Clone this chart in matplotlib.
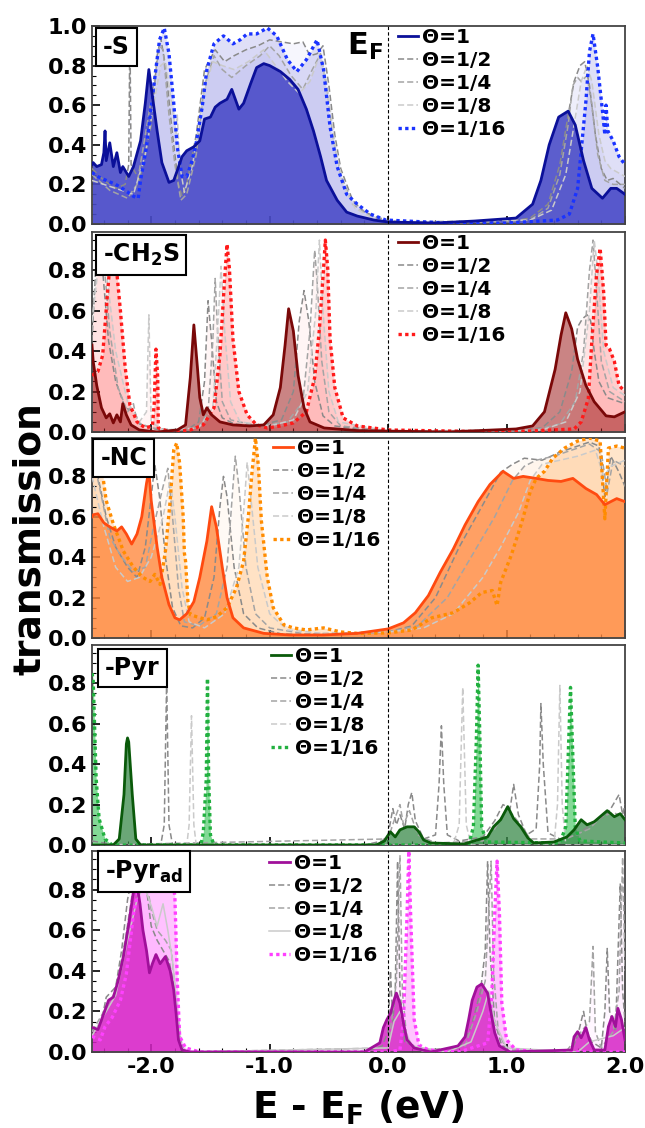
import numpy as np
import matplotlib.pyplot as plt
from matplotlib.ticker import MultipleLocator, FormatStrFormatter

# transmission curves, (E - E_F [eV], T)
# ---- -S ----
S_1 = [(-2.5, 0.30), (-2.49, 0.31), (-2.46, 0.29), (-2.42, 0.30), (-2.40, 0.36), (-2.39, 0.47), (-2.38, 0.32),
       (-2.35, 0.41), (-2.32, 0.29), (-2.29, 0.36), (-2.26, 0.26), (-2.24, 0.29), (-2.19, 0.24), (-2.15, 0.29),
       (-2.09, 0.42), (-2.05, 0.61), (-2.02, 0.78), (-2.00, 0.69), (-1.95, 0.47), (-1.91, 0.31), (-1.85, 0.21),
       (-1.81, 0.22), (-1.78, 0.27), (-1.74, 0.34), (-1.70, 0.37), (-1.64, 0.39), (-1.59, 0.42), (-1.55, 0.53),
       (-1.50, 0.54), (-1.46, 0.59), (-1.42, 0.61), (-1.36, 0.63), (-1.32, 0.68), (-1.26, 0.58), (-1.22, 0.61),
       (-1.16, 0.71), (-1.11, 0.79), (-1.05, 0.81), (-1.00, 0.80), (-0.91, 0.77), (-0.83, 0.73), (-0.76, 0.68),
       (-0.69, 0.58), (-0.63, 0.47), (-0.57, 0.34), (-0.52, 0.22), (-0.43, 0.12), (-0.35, 0.06), (-0.26, 0.04),
       (-0.12, 0.02), (0.0, 0.01), (0.4, 0.005), (0.73, 0.015), (1.08, 0.03), (1.22, 0.10), (1.29, 0.22),
       (1.36, 0.40), (1.44, 0.54), (1.52, 0.57), (1.58, 0.50), (1.65, 0.32), (1.72, 0.18), (1.81, 0.13),
       (1.88, 0.18), (1.93, 0.18), (2.0, 0.15)]
S_2 = [(-2.5, 0.28), (-2.4, 0.22), (-2.3, 0.18), (-2.22, 0.2), (-2.19, 0.3), (-2.18, 0.99), (-2.17, 0.3),
       (-2.1, 0.22), (-2.0, 0.5), (-1.95, 0.85), (-1.92, 0.94), (-1.88, 0.8), (-1.82, 0.45), (-1.77, 0.2),
       (-1.74, 0.14), (-1.70, 0.2), (-1.62, 0.45), (-1.55, 0.78), (-1.46, 0.88), (-1.38, 0.82), (-1.3, 0.85),
       (-1.2, 0.88), (-1.1, 0.9), (-1.0, 0.93), (-0.9, 0.92), (-0.8, 0.91), (-0.72, 0.92), (-0.66, 0.85),
       (-0.6, 0.86), (-0.55, 0.9), (-0.5, 0.7), (-0.45, 0.45), (-0.4, 0.28), (-0.3, 0.12), (-0.2, 0.06),
       (0.0, 0.015), (0.5, 0.005), (1.0, 0.01), (1.2, 0.03), (1.35, 0.1), (1.45, 0.3), (1.52, 0.55),
       (1.57, 0.72), (1.62, 0.8), (1.66, 0.82), (1.7, 0.7), (1.75, 0.45), (1.8, 0.28), (1.85, 0.22),
       (1.9, 0.23), (2.0, 0.18)]
S_4 = [(-2.5, 0.25), (-2.35, 0.17), (-2.2, 0.13), (-2.12, 0.2), (-2.05, 0.45), (-1.98, 0.7), (-1.93, 0.9),
       (-1.9, 0.88), (-1.85, 0.55), (-1.8, 0.3), (-1.75, 0.12), (-1.7, 0.15), (-1.62, 0.35), (-1.55, 0.7),
       (-1.47, 0.85), (-1.4, 0.78), (-1.32, 0.74), (-1.2, 0.8), (-1.08, 0.85), (-1.0, 0.9), (-0.92, 0.85),
       (-0.82, 0.75), (-0.72, 0.68), (-0.64, 0.78), (-0.57, 0.86), (-0.52, 0.7), (-0.46, 0.42), (-0.4, 0.25),
       (-0.3, 0.1), (-0.15, 0.04), (0.0, 0.01), (0.8, 0.01), (1.2, 0.02), (1.35, 0.08), (1.45, 0.25),
       (1.52, 0.5), (1.56, 0.7), (1.6, 0.74), (1.63, 0.72), (1.68, 0.75), (1.72, 0.6), (1.77, 0.35),
       (1.83, 0.22), (1.9, 0.2), (2.0, 0.2)]
S_8 = [(-2.5, 0.22), (-2.3, 0.18), (-2.15, 0.15), (-2.05, 0.35), (-1.98, 0.6), (-1.92, 0.8), (-1.88, 0.82),
       (-1.83, 0.62), (-1.79, 0.45), (-1.78, 0.55), (-1.76, 0.3), (-1.72, 0.16), (-1.65, 0.3), (-1.56, 0.65),
       (-1.48, 0.82), (-1.4, 0.8), (-1.3, 0.78), (-1.18, 0.82), (-1.05, 0.88), (-0.95, 0.8), (-0.85, 0.72),
       (-0.75, 0.66), (-0.66, 0.72), (-0.58, 0.85), (-0.52, 0.72), (-0.45, 0.4), (-0.38, 0.2), (-0.28, 0.08),
       (-0.1, 0.02), (0.0, 0.01), (1.2, 0.02), (1.38, 0.07), (1.5, 0.25), (1.57, 0.5), (1.63, 0.72),
       (1.68, 0.8), (1.72, 0.72), (1.78, 0.45), (1.83, 0.32), (1.88, 0.28), (2.0, 0.24)]
S_16 = [(-2.5, 0.26), (-2.45, 0.24), (-2.38, 0.22), (-2.3, 0.20), (-2.22, 0.17), (-2.15, 0.14), (-2.11, 0.13),
        (-2.09, 0.22), (-2.04, 0.39), (-1.98, 0.69), (-1.93, 0.93), (-1.89, 0.99), (-1.85, 0.86), (-1.81, 0.61),
        (-1.78, 0.39), (-1.74, 0.24), (-1.70, 0.24), (-1.66, 0.31), (-1.62, 0.41), (-1.57, 0.59), (-1.53, 0.78),
        (-1.47, 0.91), (-1.39, 0.95), (-1.31, 0.91), (-1.25, 0.93), (-1.19, 0.96), (-1.11, 0.96), (-1.02, 0.99),
        (-0.94, 0.95), (-0.85, 0.83), (-0.77, 0.77), (-0.69, 0.83), (-0.60, 0.93), (-0.545, 0.78), (-0.49, 0.49),
        (-0.43, 0.29), (-0.35, 0.15), (-0.26, 0.10), (-0.15, 0.05), (-0.02, 0.02), (0.5, 0.005), (1.0, 0.005),
        (1.43, 0.02), (1.53, 0.05), (1.60, 0.18), (1.63, 0.37), (1.67, 0.62), (1.70, 0.87), (1.73, 0.96),
        (1.77, 0.79), (1.81, 0.57), (1.83, 0.45), (1.84, 0.60), (1.855, 0.47), (1.90, 0.42), (1.95, 0.34),
        (2.0, 0.30)]

# ---- -CH2S ----
C_1 = [(-2.5, 0.43), (-2.49, 0.35), (-2.46, 0.23), (-2.42, 0.12), (-2.38, 0.07), (-2.35, 0.09), (-2.32, 0.045),
       (-2.29, 0.085), (-2.26, 0.05), (-2.24, 0.14), (-2.21, 0.085), (-2.17, 0.035), (-2.1, 0.01), (-1.95, 0.0),
       (-1.78, 0.01), (-1.71, 0.035), (-1.67, 0.27), (-1.64, 0.53), (-1.61, 0.32), (-1.59, 0.17), (-1.56, 0.085),
       (-1.53, 0.12), (-1.49, 0.085), (-1.42, 0.05), (-1.31, 0.035), (-1.17, 0.03), (-1.05, 0.035), (-0.97, 0.085),
       (-0.91, 0.22), (-0.87, 0.43), (-0.84, 0.61), (-0.80, 0.50), (-0.76, 0.28), (-0.71, 0.12), (-0.66, 0.05),
       (-0.54, 0.02), (-0.26, 0.007), (0.5, 0.0), (1.08, 0.015), (1.22, 0.03), (1.32, 0.10), (1.41, 0.31),
       (1.46, 0.48), (1.50, 0.59), (1.55, 0.51), (1.60, 0.36), (1.67, 0.23), (1.74, 0.15), (1.84, 0.08),
       (1.91, 0.075), (2.0, 0.10)]
C_2 = [(-2.5, 0.45), (-2.47, 0.8), (-2.44, 0.93), (-2.41, 0.8), (-2.36, 0.45), (-2.3, 0.25), (-2.22, 0.12),
       (-2.14, 0.1), (-2.1, 0.04), (-2.0, 0.02), (-1.9, 0.005), (-1.7, 0.01), (-1.6, 0.05), (-1.55, 0.25),
       (-1.52, 0.65), (-1.49, 0.45), (-1.45, 0.15), (-1.4, 0.07), (-1.3, 0.04), (-1.1, 0.03), (-0.9, 0.06),
       (-0.8, 0.2), (-0.75, 0.55), (-0.71, 0.7), (-0.67, 0.55), (-0.62, 0.25), (-0.55, 0.08), (-0.45, 0.03),
       (-0.2, 0.01), (0.0, 0.005), (1.0, 0.005), (1.3, 0.02), (1.45, 0.1), (1.55, 0.3), (1.6, 0.52),
       (1.64, 0.56), (1.68, 0.58), (1.71, 0.55), (1.74, 0.4), (1.78, 0.25), (1.85, 0.17), (2.0, 0.14)]
C_4 = [(-2.5, 0.5), (-2.46, 0.85), (-2.43, 0.95), (-2.4, 0.85), (-2.35, 0.5), (-2.28, 0.22), (-2.2, 0.1),
       (-2.15, 0.14), (-2.12, 0.05), (-2.0, 0.02), (-1.8, 0.01), (-1.6, 0.02), (-1.52, 0.1), (-1.48, 0.45),
       (-1.46, 0.76), (-1.44, 0.5), (-1.4, 0.15), (-1.33, 0.06), (-1.1, 0.03), (-0.85, 0.05), (-0.72, 0.15),
       (-0.66, 0.5), (-0.62, 0.9), (-0.6, 0.75), (-0.56, 0.35), (-0.5, 0.1), (-0.4, 0.03), (0.0, 0.005),
       (1.2, 0.005), (1.45, 0.04), (1.58, 0.15), (1.65, 0.4), (1.7, 0.8), (1.73, 0.95), (1.76, 0.7),
       (1.8, 0.35), (1.87, 0.2), (2.0, 0.15)]
C_8 = [(-2.5, 0.55), (-2.45, 0.8), (-2.41, 0.9), (-2.37, 0.75), (-2.3, 0.4), (-2.2, 0.15), (-2.1, 0.05),
       (-2.04, 0.1), (-2.02, 0.58), (-2.0, 0.05), (-1.9, 0.01), (-1.6, 0.02), (-1.48, 0.12), (-1.44, 0.5),
       (-1.41, 0.82), (-1.38, 0.5), (-1.33, 0.15), (-1.25, 0.05), (-1.0, 0.03), (-0.8, 0.06), (-0.68, 0.2),
       (-0.61, 0.6), (-0.58, 0.95), (-0.55, 0.6), (-0.5, 0.2), (-0.42, 0.05), (0.0, 0.005), (1.3, 0.01),
       (1.5, 0.05), (1.62, 0.2), (1.7, 0.6), (1.74, 0.95), (1.77, 0.8), (1.82, 0.4), (1.9, 0.22), (2.0, 0.18)]
C_16 = [(-2.5, 0.28), (-2.45, 0.30), (-2.41, 0.38), (-2.37, 0.68), (-2.33, 0.96), (-2.31, 0.91), (-2.26, 0.60),
        (-2.22, 0.32), (-2.18, 0.135), (-2.12, 0.05), (-2.05, 0.02), (-1.99, 0.03), (-1.975, 0.135), (-1.96, 0.41),
        (-1.945, 0.27), (-1.94, 0.02), (-1.84, 0.0), (-1.67, 0.01), (-1.56, 0.035), (-1.47, 0.12), (-1.42, 0.38),
        (-1.38, 0.76), (-1.36, 0.93), (-1.34, 0.81), (-1.31, 0.46), (-1.26, 0.20), (-1.19, 0.085), (-1.11, 0.035),
        (-1.02, 0.02), (-0.91, 0.03), (-0.80, 0.045), (-0.69, 0.10), (-0.62, 0.27), (-0.58, 0.51), (-0.545, 0.81),
        (-0.53, 0.95), (-0.51, 0.81), (-0.49, 0.46), (-0.45, 0.22), (-0.38, 0.07), (-0.26, 0.03), (0.0, 0.01),
        (1.0, 0.0), (1.57, 0.015), (1.63, 0.05), (1.69, 0.165), (1.72, 0.45), (1.76, 0.78), (1.79, 0.91),
        (1.82, 0.69), (1.84, 0.43), (1.87, 0.41), (1.91, 0.35), (1.95, 0.23), (2.0, 0.20)]

# ---- -NC ----
N_1 = [(-2.5, 0.60), (-2.49, 0.61), (-2.45, 0.615), (-2.40, 0.57), (-2.35, 0.55), (-2.29, 0.53), (-2.25, 0.55),
       (-2.21, 0.515), (-2.165, 0.465), (-2.12, 0.515), (-2.08, 0.60), (-2.04, 0.765), (-2.02, 0.83), (-2.0, 0.68),
       (-1.95, 0.45), (-1.91, 0.30), (-1.85, 0.165), (-1.80, 0.10), (-1.76, 0.09), (-1.70, 0.12), (-1.64, 0.18),
       (-1.59, 0.30), (-1.53, 0.48), (-1.49, 0.65), (-1.45, 0.55), (-1.40, 0.35), (-1.36, 0.20), (-1.31, 0.10),
       (-1.22, 0.05), (-1.05, 0.023), (-0.83, 0.015), (-0.545, 0.015), (-0.26, 0.023), (0.0, 0.045), (0.13, 0.075),
       (0.23, 0.125), (0.34, 0.21), (0.44, 0.325), (0.55, 0.44), (0.65, 0.56), (0.76, 0.675), (0.86, 0.76),
       (0.97, 0.825), (1.06, 0.79), (1.14, 0.80), (1.25, 0.79), (1.35, 0.78), (1.46, 0.775), (1.56, 0.79),
       (1.67, 0.74), (1.76, 0.71), (1.83, 0.66), (1.88, 0.675), (1.93, 0.69), (2.0, 0.675)]
N_2 = [(-2.5, 0.95), (-2.45, 0.8), (-2.38, 0.6), (-2.3, 0.45), (-2.2, 0.35), (-2.12, 0.3), (-2.05, 0.45),
       (-2.0, 0.7), (-1.97, 0.86), (-1.93, 0.7), (-1.88, 0.4), (-1.82, 0.15), (-1.75, 0.06), (-1.65, 0.05),
       (-1.55, 0.1), (-1.47, 0.3), (-1.42, 0.65), (-1.39, 0.8), (-1.36, 0.7), (-1.3, 0.35), (-1.22, 0.12),
       (-1.1, 0.05), (-0.9, 0.02), (-0.5, 0.015), (0.0, 0.03), (0.2, 0.06), (0.4, 0.2), (0.6, 0.45),
       (0.8, 0.66), (0.95, 0.82), (1.05, 0.86), (1.15, 0.89), (1.3, 0.88), (1.45, 0.92), (1.6, 0.95),
       (1.7, 0.97), (1.78, 0.95), (1.83, 0.7), (1.88, 0.9), (1.95, 0.82), (2.0, 0.75)]
N_4 = [(-2.5, 0.92), (-2.42, 0.7), (-2.35, 0.5), (-2.25, 0.4), (-2.15, 0.33), (-2.05, 0.35), (-1.98, 0.55),
       (-1.9, 0.75), (-1.86, 0.84), (-1.82, 0.6), (-1.77, 0.25), (-1.72, 0.08), (-1.6, 0.06), (-1.45, 0.12),
       (-1.36, 0.35), (-1.31, 0.75), (-1.29, 0.9), (-1.26, 0.75), (-1.2, 0.35), (-1.12, 0.12), (-1.0, 0.05),
       (-0.7, 0.02), (0.0, 0.03), (0.25, 0.06), (0.5, 0.2), (0.7, 0.4), (0.9, 0.6), (1.05, 0.78), (1.15, 0.85),
       (1.25, 0.88), (1.4, 0.9), (1.55, 0.93), (1.7, 0.96), (1.8, 0.92), (1.85, 0.72), (1.9, 0.88), (2.0, 0.85)]
N_8 = [(-2.5, 0.8), (-2.4, 0.55), (-2.3, 0.35), (-2.2, 0.28), (-2.1, 0.3), (-2.0, 0.4), (-1.9, 0.6),
       (-1.84, 0.78), (-1.8, 0.6), (-1.74, 0.25), (-1.68, 0.08), (-1.55, 0.05), (-1.38, 0.12), (-1.26, 0.35),
       (-1.21, 0.7), (-1.19, 0.87), (-1.16, 0.7), (-1.1, 0.35), (-1.0, 0.12), (-0.85, 0.04), (-0.5, 0.02),
       (0.0, 0.03), (0.3, 0.05), (0.55, 0.12), (0.8, 0.3), (0.95, 0.45), (1.1, 0.62), (1.2, 0.78), (1.3, 0.86),
       (1.45, 0.88), (1.6, 0.9), (1.75, 0.93), (1.82, 0.8), (1.88, 0.85), (2.0, 0.88)]
N_16 = [(-2.5, 0.97), (-2.46, 0.98), (-2.42, 0.85), (-2.38, 0.68), (-2.32, 0.565), (-2.235, 0.43), (-2.15, 0.35),
        (-2.07, 0.30), (-2.01, 0.28), (-1.97, 0.315), (-1.925, 0.265), (-1.88, 0.43), (-1.84, 0.68), (-1.81, 0.93),
        (-1.785, 0.965), (-1.76, 0.865), (-1.73, 0.60), (-1.72, 0.42), (-1.71, 0.38), (-1.69, 0.18), (-1.67, 0.115),
        (-1.615, 0.105), (-1.53, 0.09), (-1.45, 0.105), (-1.36, 0.15), (-1.28, 0.25), (-1.22, 0.38), (-1.18, 0.60),
        (-1.15, 0.815), (-1.12, 0.99), (-1.095, 0.85), (-1.07, 0.58), (-1.02, 0.30), (-0.97, 0.15), (-0.88, 0.065),
        (-0.80, 0.05), (-0.69, 0.04), (-0.545, 0.05), (-0.40, 0.03), (-0.26, 0.023), (0.0, 0.025), (0.20, 0.04),
        (0.37, 0.10), (0.55, 0.125), (0.69, 0.175), (0.79, 0.225), (0.88, 0.235), (0.92, 0.16), (0.95, 0.275),
        (1.04, 0.41), (1.13, 0.575), (1.20, 0.725), (1.25, 0.79), (1.32, 0.825), (1.39, 0.89), (1.49, 0.94),
        (1.60, 0.975), (1.70, 0.99), (1.79, 0.975), (1.83, 0.59), (1.86, 0.94), (1.93, 0.95), (2.0, 0.94)]

# ---- -Pyr ----
P_1 = [(-2.5, 0.0), (-2.32, 0.0), (-2.27, 0.03), (-2.23, 0.25), (-2.21, 0.50), (-2.20, 0.53), (-2.19, 0.51),
       (-2.16, 0.25), (-2.13, 0.03), (-2.09, 0.0), (-0.1, 0.0), (-0.03, 0.02), (-0.01, 0.04), (0.02, 0.065),
       (0.06, 0.04), (0.10, 0.075), (0.16, 0.09), (0.22, 0.09), (0.26, 0.065), (0.30, 0.025), (0.36, 0.01),
       (0.64, 0.005), (0.84, 0.04), (0.89, 0.09), (0.95, 0.125), (1.01, 0.19), (1.06, 0.13), (1.12, 0.09),
       (1.18, 0.035), (1.23, 0.01), (1.40, 0.015), (1.51, 0.04), (1.57, 0.075), (1.63, 0.125), (1.68, 0.10),
       (1.74, 0.115), (1.79, 0.14), (1.85, 0.17), (1.91, 0.14), (1.96, 0.155), (2.0, 0.125)]
P_2 = [(-2.5, 0.02), (-2.3, 0.0), (-1.92, 0.0), (-1.89, 0.1), (-1.87, 0.81), (-1.85, 0.1), (-1.82, 0.0),
       (-0.2, 0.0), (-0.05, 0.02), (0.0, 0.05), (0.04, 0.18), (0.07, 0.1), (0.1, 0.15), (0.14, 0.08),
       (0.17, 0.2), (0.2, 0.26), (0.23, 0.12), (0.3, 0.03), (0.4, 0.05), (0.43, 0.3), (0.45, 0.59), (0.47, 0.3),
       (0.5, 0.05), (0.6, 0.02), (0.8, 0.04), (0.9, 0.12), (0.97, 0.2), (1.03, 0.18), (1.06, 0.3), (1.1, 0.15),
       (1.17, 0.05), (1.25, 0.08), (1.28, 0.4), (1.29, 0.7), (1.31, 0.4), (1.35, 0.06), (1.45, 0.03),
       (1.6, 0.05), (1.75, 0.12), (1.85, 0.15), (1.92, 0.22), (1.95, 0.25), (1.98, 0.15), (2.0, 0.2)]
P_4 = [(-2.5, 0.0), (0.0, 0.03), (0.05, 0.12), (0.1, 0.2), (0.13, 0.1), (0.18, 0.17), (0.25, 0.05), (0.4, 0.01),
       (0.8, 0.02), (0.9, 0.08), (1.0, 0.18), (1.05, 0.15), (1.12, 0.1), (1.2, 0.03), (1.5, 0.03), (1.7, 0.08),
       (1.8, 0.14), (1.9, 0.16), (2.0, 0.14)]
P_8 = [(-2.5, 0.0), (-1.7, 0.0), (-1.68, 0.1), (-1.66, 0.64), (-1.64, 0.1), (-1.62, 0.0), (0.55, 0.0),
       (0.6, 0.1), (0.63, 0.78), (0.66, 0.1), (0.7, 0.0), (1.4, 0.0), (1.43, 0.2), (1.45, 0.79), (1.47, 0.2),
       (1.5, 0.0), (2.0, 0.0)]
P_16 = [(-2.5, 0.85), (-2.49, 0.82), (-2.465, 0.33), (-2.44, 0.13), (-2.39, 0.03), (-2.33, 0.0), (-1.58, 0.0),
        (-1.56, 0.065), (-1.535, 0.33), (-1.525, 0.825), (-1.515, 0.33), (-1.50, 0.05), (-1.47, 0.0), (0.68, 0.0),
        (0.72, 0.09), (0.745, 0.52), (0.76, 0.89), (0.775, 0.52), (0.79, 0.09), (0.83, 0.015), (1.45, 0.01),
        (1.50, 0.09), (1.525, 0.52), (1.54, 0.78), (1.555, 0.52), (1.58, 0.09), (1.62, 0.02), (2.0, 0.01)]

# ---- -Pyr_ad ----
A_1 = [(-2.5, 0.12), (-2.49, 0.12), (-2.45, 0.11), (-2.40, 0.19), (-2.36, 0.255), (-2.32, 0.27), (-2.28, 0.35),
       (-2.235, 0.47), (-2.19, 0.63), (-2.15, 0.79), (-2.12, 0.825), (-2.095, 0.73), (-2.07, 0.60), (-2.04, 0.50),
       (-2.015, 0.39), (-1.99, 0.435), (-1.96, 0.48), (-1.925, 0.435), (-1.88, 0.47), (-1.84, 0.40), (-1.81, 0.305),
       (-1.79, 0.19), (-1.77, 0.06), (-1.74, 0.01), (-1.67, 0.0), (-0.2, 0.0), (-0.07, 0.045), (-0.04, 0.12),
       (-0.01, 0.16), (0.02, 0.19), (0.05, 0.255), (0.07, 0.29), (0.10, 0.24), (0.13, 0.14), (0.16, 0.06),
       (0.22, 0.02), (0.36, 0.0), (0.59, 0.03), (0.65, 0.075), (0.68, 0.16), (0.71, 0.255), (0.75, 0.32),
       (0.79, 0.335), (0.84, 0.29), (0.87, 0.19), (0.90, 0.095), (0.94, 0.03), (1.03, 0.0), (1.55, 0.01),
       (1.57, 0.075), (1.60, 0.10), (1.63, 0.07), (1.67, 0.12), (1.70, 0.06), (1.74, 0.01), (1.83, 0.01),
       (1.86, 0.125), (1.89, 0.175), (1.92, 0.125), (1.94, 0.215), (1.97, 0.16), (2.0, 0.06)]
A_2 = [(-2.5, 0.1), (-2.42, 0.15), (-2.38, 0.27), (-2.3, 0.32), (-2.25, 0.5), (-2.2, 0.75), (-2.15, 0.9),
       (-2.1, 0.95), (-2.05, 0.85), (-2.0, 0.62), (-1.95, 0.55), (-1.9, 0.5), (-1.85, 0.45), (-1.8, 0.3),
       (-1.76, 0.08), (-1.72, 0.0), (-0.2, 0.0), (-0.05, 0.03), (0.0, 0.1), (0.02, 0.4), (0.04, 0.15),
       (0.06, 0.3), (0.08, 0.94), (0.1, 0.3), (0.14, 0.05), (0.3, 0.01), (0.6, 0.02), (0.7, 0.12), (0.78, 0.3),
       (0.82, 0.5), (0.84, 0.94), (0.86, 0.5), (0.9, 0.15), (0.96, 0.03), (1.2, 0.0), (1.55, 0.01), (1.6, 0.08),
       (1.65, 0.2), (1.68, 0.1), (1.72, 0.05), (1.8, 0.02), (1.83, 0.2), (1.85, 0.51), (1.87, 0.2), (1.92, 0.1),
       (1.96, 0.83), (1.98, 0.3), (2.0, 0.15)]
A_4 = [(-2.5, 0.1), (-2.4, 0.2), (-2.3, 0.3), (-2.22, 0.55), (-2.15, 0.82), (-2.1, 0.9), (-2.05, 0.88),
       (-2.0, 0.7), (-1.95, 0.6), (-1.88, 0.55), (-1.83, 0.5), (-1.78, 0.2), (-1.74, 0.02), (-1.7, 0.0),
       (0.0, 0.02), (0.04, 0.2), (0.07, 0.35), (0.1, 0.97), (0.12, 0.3), (0.16, 0.05), (0.3, 0.0), (0.65, 0.03),
       (0.75, 0.2), (0.82, 0.35), (0.87, 0.94), (0.89, 0.4), (0.93, 0.1), (1.0, 0.01), (1.5, 0.0), (1.63, 0.1),
       (1.7, 0.15), (1.73, 0.52), (1.75, 0.1), (1.8, 0.02), (1.9, 0.1), (1.95, 0.3), (1.98, 0.96), (2.0, 0.4)]
A_8 = [(-2.5, 0.08), (-2.4, 0.18), (-2.3, 0.28), (-2.2, 0.55), (-2.12, 0.75), (-2.06, 0.82), (-2.0, 0.72),
       (-1.95, 0.62), (-1.9, 0.73), (-1.86, 0.6), (-1.82, 0.45), (-1.78, 0.2), (-1.75, 0.03), (-1.7, 0.0),
       (0.0, 0.02), (0.05, 0.15), (0.1, 0.2), (0.15, 0.1), (0.2, 0.03), (0.5, 0.0), (0.7, 0.05), (0.8, 0.2),
       (0.85, 0.3), (0.9, 0.15), (1.0, 0.02), (1.6, 0.0), (1.7, 0.05), (1.9, 0.08), (2.0, 0.12)]
A_16 = [(-2.5, 0.077), (-2.43, 0.06), (-2.39, 0.125), (-2.33, 0.17), (-2.26, 0.255), (-2.21, 0.385), (-2.15, 0.68),
        (-2.095, 0.84), (-2.05, 0.94), (-2.02, 0.955), (-1.98, 0.91), (-1.94, 0.84), (-1.90, 0.91), (-1.86, 0.94),
        (-1.83, 0.925), (-1.80, 0.76), (-1.78, 0.35), (-1.76, 0.077), (-1.71, 0.02), (-1.59, 0.0), (0.0, 0.0),
        (0.10, 0.01), (0.13, 0.16), (0.16, 0.68), (0.175, 0.99), (0.19, 0.68), (0.22, 0.16), (0.26, 0.035),
        (0.34, 0.01), (0.6, 0.0), (0.84, 0.045), (0.875, 0.27), (0.90, 0.68), (0.92, 0.94), (0.94, 0.68),
        (0.96, 0.24), (1.0, 0.06), (1.08, 0.01), (1.3, 0.0), (2.0, 0.0)]

names = ['-S', r'-CH$_\mathbf{2}$S', '-NC', '-Pyr', r'-Pyr$_\mathbf{ad}$']
curves = [(S_1, S_2, S_4, S_8, S_16), (C_1, C_2, C_4, C_8, C_16), (N_1, N_2, N_4, N_8, N_16),
          (P_1, P_2, P_4, P_8, P_16), (A_1, A_2, A_4, A_8, A_16)]
labels = ['Θ=1', 'Θ=1/2', 'Θ=1/4', 'Θ=1/8', 'Θ=1/16']

# line colour Θ=1, fill Θ=1, line colour Θ=1/16, fill of the lower coverages
line1 = ['#0b1099', '#7a0808', '#ff4a10', '#0a5a0a', '#a0109a']
fill1 = ['#4a4cc8', '#a02020', '#ff8a40', '#3a8a4a', '#d626c6']
alpha1 = [0.9, 0.55, 0.8, 0.75, 0.85]
line16 = ['#1a33ff', '#ff1a1a', '#ff8c00', '#22b040', '#ff40ff']
fill16 = ['#7070dd', '#ff6060', '#ffb060', '#30c050', '#ff80ff']
alpha16 = [0.22, 0.3, 0.32, 0.6, 0.45]
alpha_gray = [0.06, 0.06, 0.06, 0.0, 0.06]

plt.rcParams['font.family'] = ['DejaVu Sans']
plt.rcParams['font.weight'] = 'bold'
plt.rcParams['mathtext.fontset'] = 'dejavusans'

W, H = 645, 1128
fig = plt.figure(figsize=(W / 100, H / 100), dpi=100)

rows = [(26, 224), (232, 432), (438, 638), (645, 845), (851, 1052)]
x0, x1 = 92, 625
leg_pos = [(0.574, 0.99), (0.574, 0.99), (0.34, 0.995), (0.336, 0.99), (0.333, 0.985)]
box_pos = [(0.021, 0.955), (0.02, 0.95), (0.016, 0.96), (0.024, 0.945), (0.024, 0.965)]

gray_styles = [dict(color='#8a8a8a', ls=(0, (4, 2)), lw=1.1),
               dict(color='#a4a4a4', ls=(0, (4, 2)), lw=1.1),
               dict(color='#cacaca', ls=(0, (4, 2)), lw=1.1)]

for i in range(5):
    top, bot = rows[i]
    ax = fig.add_axes([x0 / W, 1 - bot / H, (x1 - x0) / W, (bot - top) / H])
    data = [np.array(c) for c in curves[i]]

    # light fills for the lower coverages
    if alpha_gray[i] > 0:
        for d in data[1:4]:
            ax.fill_between(d[:, 0], d[:, 1], color=fill16[i], alpha=alpha_gray[i], lw=0, zorder=1)
    ax.fill_between(data[4][:, 0], data[4][:, 1], color=fill16[i], alpha=alpha16[i], lw=0, zorder=1)
    ax.fill_between(data[0][:, 0], data[0][:, 1], color=fill1[i], alpha=alpha1[i], lw=0, zorder=2)

    ax.plot(data[0][:, 0], data[0][:, 1], color=line1[i], lw=2.0, label=labels[0], zorder=6)
    for k in range(3):
        st = dict(gray_styles[k])
        if i == 4 and k == 2:
            st['ls'] = '-'
        ax.plot(data[k + 1][:, 0], data[k + 1][:, 1], label=labels[k + 1], zorder=3, **st)
    ax.plot(data[4][:, 0], data[4][:, 1], color=line16[i], lw=2.4, ls=(0, (1, 1)), label=labels[4], zorder=5)

    ax.axvline(0, color='black', lw=0.8, ls=(0, (3, 2)), zorder=7)

    ax.set_xlim(-2.5, 2.0)
    if i == 0:
        ax.set_ylim(0, 1.0)
        ax.set_yticks([0, 0.2, 0.4, 0.6, 0.8, 1.0])
    else:
        ax.set_ylim(0, 0.99)
        ax.set_yticks([0, 0.2, 0.4, 0.6, 0.8])
    ax.xaxis.set_major_locator(MultipleLocator(1.0))
    ax.xaxis.set_minor_locator(MultipleLocator(0.2))
    ax.yaxis.set_minor_locator(MultipleLocator(0.05))
    ax.yaxis.set_major_formatter(FormatStrFormatter('%.1f'))
    ax.xaxis.set_major_formatter(FormatStrFormatter('%.1f'))
    ax.tick_params(which='both', direction='in', top=False, right=False)
    ax.tick_params(which='major', length=6, width=1.2, labelsize=16)
    ax.tick_params(which='minor', length=3, width=0.8)
    if i < 4:
        ax.tick_params(labelbottom=False)
    for sp in ax.spines.values():
        sp.set_color('#444444')
        sp.set_linewidth(1.3)

    ax.text(box_pos[i][0], box_pos[i][1], names[i], transform=ax.transAxes, ha='left', va='top',
            fontsize=17, fontweight='bold', zorder=10,
            bbox=dict(boxstyle='square,pad=0.3', fc='white', ec='black', lw=1.5))

    ax.legend(loc='upper left', bbox_to_anchor=leg_pos[i], frameon=False, fontsize=14.5,
              handlelength=1.0, handletextpad=0.2, labelspacing=0.2, borderpad=0, borderaxespad=0)

    if i == 0:
        ax.text(0.546, 0.975, r'$\mathbf{E_F}$', transform=ax.transAxes, ha='right', va='top', fontsize=22)

fig.text(30 / W, 1 - 539 / H, 'transmission', rotation=90, ha='center', va='center',
         fontsize=27, fontweight='bold')
fig.text(358 / W, 1 - 1108 / H, r'E - E$_\mathbf{F}$ (eV)', ha='center', va='center',
         fontsize=27, fontweight='bold')

fig.savefig('out.png', dpi=100)
